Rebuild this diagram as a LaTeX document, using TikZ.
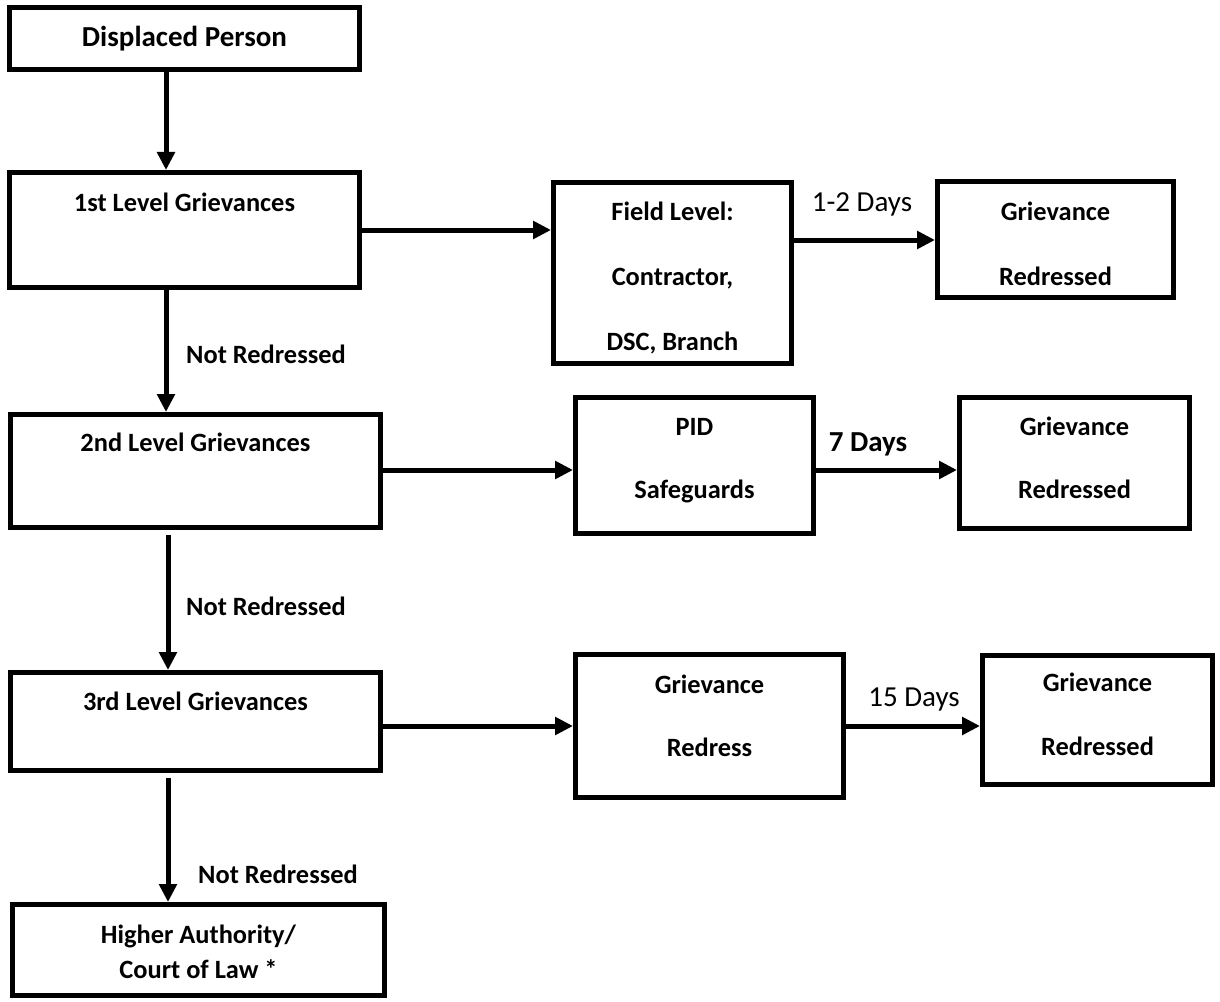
\documentclass[tikz,border=0pt]{standalone}
\usepackage{fontspec}
\setmainfont{Carlito}
\usetikzlibrary{arrows.meta,fit}
\begin{document}
\begin{tikzpicture}[x=0.75pt,y=-0.75pt,
  box/.style={draw=black, line width=3.75pt, inner sep=0pt, rectangle},
  txt/.style={font=\bfseries\fontsize{19.8pt}{22pt}\selectfont, anchor=base, inner sep=0pt},
  bigtxt/.style={font=\bfseries\fontsize{21.75pt}{24pt}\selectfont, anchor=base, inner sep=0pt},
  daytxt/.style={font=\fontsize{21.75pt}{24pt}\selectfont, anchor=base, inner sep=0pt},
  arr/.style={line width=3.75pt, -{Triangle[length=13.5pt,width=13pt]}}
]
\fill[white] (0,0) rectangle (1220,1002);
\useasboundingbox (0,0) rectangle (1220,1002);

% boxes
\node[box, fit={(9.5,7.5) (359.5,69.5)}] (dp) {};
\node[box, fit={(9.5,172.5) (359.5,287.5)}] (l1) {};
\node[box, fit={(553.5,182.5) (791.5,363.5)}] (field) {};
\node[box, fit={(937.5,181.5) (1173.5,297.5)}] (gr1) {};
\node[box, fit={(10.5,414.5) (380.5,527.5)}] (l2) {};
\node[box, fit={(575.5,397.5) (813.5,533.5)}] (pid) {};
\node[box, fit={(959.5,397.5) (1189.5,528.5)}] (gr2) {};
\node[box, fit={(10.5,672.5) (380.5,770.5)}] (l3) {};
\node[box, fit={(575.5,654.5) (843.5,797.5)}] (gred) {};
\node[box, fit={(982.5,655.5) (1212.5,784.5)}] (gr3) {};
\node[box, fit={(12.5,904.5) (384.5,995.5)}] (ha) {};

% texts
\node[bigtxt] (dpt) at (184.5,47) {Displaced Person};
\node[txt] (l1t) at (184.5,211) {1st Level Grievances};
\node[txt] (fa) at (672.5,220) {Field Level:};
\node[txt] (fb) at (672.5,285) {Contractor,};
\node[txt] (fc) at (672.5,350) {DSC, Branch};
\node[txt] (g1a) at (1055.5,220) {Grievance};
\node[txt] (g1b) at (1055.5,285) {Redressed};
\node[txt] (l2t) at (195.5,451) {2nd Level Grievances};
\node[txt] (pa) at (694.5,435) {PID};
\node[txt] (pb) at (694.5,498) {Safeguards};
\node[txt] (g2a) at (1074.5,435) {Grievance};
\node[txt] (g2b) at (1074.5,498) {Redressed};
\node[txt] (l3t) at (195.5,710) {3rd Level Grievances};
\node[txt] (gra) at (709.5,693) {Grievance};
\node[txt] (grb) at (709.5,756) {Redress};
\node[txt] (g3a) at (1097.5,691) {Grievance};
\node[txt] (g3b) at (1097.5,755) {Redressed};
\node[txt] (haa) at (198.5,943) {Higher Authority/};
\node[txt] (hab) at (198.5,978) {Court of Law *};

% labels
\node[daytxt] (d1) at (862,211) {1-2 Days};
\node[bigtxt] (d2) at (868,451) {7 Days};
\node[daytxt] (d3) at (914,706) {15 Days};
\node[txt] (n1) at (266,363) {Not Redressed};
\node[txt] (n2) at (266,615) {Not Redressed};
\node[txt] (n3) at (278,883) {Not Redressed};

% helper coordinates
\coordinate (c1) at (166,0);
\coordinate (c2) at (168,0);
\coordinate (r1) at (0,240);
\coordinate (r2) at (0,470);
\coordinate (r3) at (0,726);

% vertical connectors
\draw[arr] (dp.south -| c1) -- (l1.north -| c1);
\draw[arr] (l1.south -| c1) -- (l2.north -| c1);
\draw[arr, shorten <=3.75pt] (l2.south -| c2) -- (l3.north -| c2);
\draw[arr, shorten <=3.75pt] (l3.south -| c2) -- (ha.north -| c2);

% horizontal connectors
\draw[arr] (l1.east) -- (l1.east -| field.west);
\draw[arr] (field.east |- r1) -- (gr1.west |- r1);
\draw[arr] (l2.east |- r2) -- (pid.west |- r2);
\draw[arr] (pid.east |- r2) -- (gr2.west |- r2);
\draw[arr] (l3.east |- r3) -- (gred.west |- r3);
\draw[arr] (gred.east |- r3) -- (gr3.west |- r3);
\end{tikzpicture}
\end{document}
